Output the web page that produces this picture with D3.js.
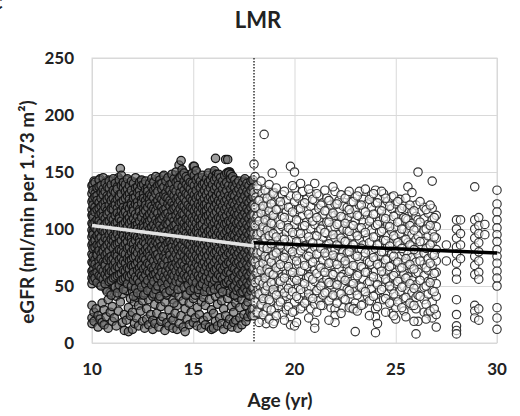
<!DOCTYPE html>
<html>
<head>
<meta charset="utf-8">
<script src="https://cdn.jsdelivr.net/npm/d3@7"></script>
<style>
  body { margin: 0; background: #fff; }
  text { font-family: Lato, "Open Sans", sans-serif; font-weight: bold; fill: #222; }
</style>
</head>
<body>
<svg width="520" height="416"></svg>
<script>
// ages (yr) of each column of points, and the eGFR values in that column
var youngAges = [10.0,10.1,10.2,10.3,10.4,10.5,10.6,10.7,10.8,10.9,
  11.0,11.1,11.2,11.3,11.4,11.5,11.6,11.7,11.8,11.9,
  12.0,12.1,12.2,12.3,12.4,12.5,12.6,12.7,12.8,12.9,
  13.0,13.1,13.2,13.3,13.4,13.5,13.6,13.7,13.8,13.9,
  14.0,14.1,14.2,14.3,14.4,14.5,14.6,14.7,14.8,14.9,
  15.0,15.1,15.2,15.3,15.4,15.5,15.6,15.7,15.8,15.9,
  16.0,16.1,16.2,16.3,16.4,16.5,16.6,16.7,16.8,16.9,
  17.0,17.1,17.2,17.3,17.4,17.5,17.6,17.7,17.8,17.9];

var youngEgfr = [
  [138,131,124,117,112,105,99,93,86,78,71,63,57,52,33,22,17],
  [142,127,119,109,101,96,88,81,74,66,59,27,19],
  [135,128,121,114,103,97,91,84,77,69,61,55,30],
  [140,133,118,111,106,95,89,80,72,65,58,24,14],
  [144,129,122,115,108,100,92,85,76,68,62,51,21],
  [137,130,120,113,104,98,90,83,75,67,56,35,18],
  [141,134,125,110,102,94,87,79,70,64,53,29,16],
  [139,126,119,112,107,97,88,82,73,66,59,47,23],
  [143,132,123,116,105,99,91,84,77,69,60,38,13],
  [136,128,121,109,101,93,86,78,71,63,55,44,27],
  [142,135,124,117,110,103,95,88,80,72,64,57,32,19],
  [138,127,118,111,104,96,89,81,74,65,50,22],
  [140,131,122,114,106,98,90,83,76,67,58,41,15],
  [145,133,125,116,108,100,92,85,77,70,61,48,28],
  [153,137,126,119,112,102,94,87,79,71,62,54,36],
  [141,130,121,113,105,97,89,82,73,66,57,43,18],
  [139,128,120,110,103,95,86,78,70,63,52,25,11],
  [143,134,124,117,109,101,93,84,76,68,59,46,20],
  [136,127,118,111,104,96,88,80,72,64,55,31,10],
  [140,132,122,114,106,99,91,83,75,67,58,39,24],
  [138,129,121,113,105,97,90,82,74,66,56,45,27,12],
  [141,133,123,115,107,98,89,81,73,64,53,36,17],
  [135,126,119,110,102,94,86,79,71,62,50,40,22],
  [139,130,122,114,106,97,88,80,72,63,54,33,15],
  [142,134,125,117,108,100,92,84,75,67,57,42,28],
  [137,128,120,111,103,95,87,78,70,61,51,37,19],
  [140,131,123,115,106,98,90,82,74,65,55,44,13],
  [136,127,118,110,102,93,85,77,68,60,49,30,21],
  [139,132,121,113,105,96,89,81,73,64,53,38,16],
  [141,129,122,114,107,99,91,83,75,66,56,46,25],
  [138,130,123,115,108,100,92,84,76,68,58,41,20,12],
  [142,133,124,116,106,97,88,80,71,62,52,34,17],
  [137,128,119,111,103,95,87,79,70,61,50,43,26],
  [145,135,125,117,109,101,93,85,77,69,59,39,14],
  [140,131,122,113,105,96,88,80,72,63,54,32,19],
  [146,136,126,118,110,102,94,86,78,70,60,47,23],
  [139,130,121,112,104,95,87,79,71,62,51,36,11],
  [143,134,124,116,107,99,90,82,74,65,55,42,18],
  [141,132,123,114,106,98,89,81,73,64,53,29,15],
  [144,135,125,117,108,100,92,84,75,67,57,45,22],
  [142,133,124,115,107,98,90,82,73,65,56,38,20,13],
  [147,138,127,119,110,101,93,85,76,68,58,44,26],
  [140,131,122,113,104,96,88,79,71,62,52,33,12],
  [156,139,128,120,111,103,94,86,78,69,59,41,17],
  [160,143,132,121,112,104,95,87,78,70,60,48,24],
  [150,141,130,122,113,105,96,88,79,71,61,37,14],
  [146,136,126,118,109,100,92,84,75,66,55,30,10],
  [142,133,124,115,106,98,89,81,72,64,53,43,21],
  [139,130,121,112,104,95,87,78,70,61,50,35,16],
  [148,137,127,119,110,102,93,85,77,68,57,46,27],
  [155,144,134,123,114,106,97,89,80,72,63,52,39,18],
  [151,140,129,120,111,103,94,86,78,69,59,42,22],
  [143,134,125,116,107,99,90,82,74,65,54,31,15],
  [140,131,122,114,105,97,88,80,71,63,52,44,25],
  [145,135,126,117,108,100,91,83,75,66,56,36,13],
  [138,129,120,112,103,95,86,78,70,61,50,40,20],
  [142,133,124,115,106,98,89,81,73,64,53,33,16],
  [147,136,127,118,109,101,92,84,76,67,57,45,23],
  [140,131,121,113,104,96,87,79,71,62,51,38,14],
  [144,134,125,116,107,99,90,82,74,65,55,29,12],
  [149,139,128,119,110,102,93,85,77,68,58,47,26,13],
  [162,141,130,121,112,103,95,86,78,70,60,41,19],
  [146,136,126,117,108,100,91,83,75,66,56,34,15],
  [143,133,124,115,106,97,89,80,72,63,53,43,22],
  [140,131,122,113,104,96,87,79,70,62,51,37,17],
  [145,135,125,116,107,99,90,82,73,65,54,30,12],
  [161,138,128,119,110,101,93,84,76,67,57,46,24],
  [161,148,134,122,113,104,95,87,78,70,59,39,16],
  [150,139,129,120,111,102,94,85,77,68,58,44,21],
  [144,134,124,115,106,98,89,81,72,64,53,32,14],
  [141,132,123,114,105,97,88,80,71,63,52,42,27,18],
  [137,128,119,111,102,94,85,77,69,60,49,35,20],
  [140,130,121,112,104,95,87,78,70,61,51,40,13],
  [135,126,118,109,101,92,84,75,67,58,47,31,22],
  [138,129,120,111,103,94,86,77,69,60,50,38,16],
  [142,131,122,113,104,96,87,79,70,62,52,44,25],
  [139,130,120,112,103,95,86,78,69,61,49,33,19],
  [136,127,118,110,101,93,84,76,68,59,48,36,23],
  [140,129,121,112,104,95,87,78,70,61,51,41,27],
  [141,133,123,114,105,97,88,80,71,63,53,30,24]
];

// second set of under-18 columns, half-way between the first ones
var youngAgesB = [10.05,10.15,10.25,10.35,10.45,10.55,10.65,10.75,10.85,10.95,
  11.05,11.15,11.25,11.35,11.45,11.55,11.65,11.75,11.85,11.95,
  12.05,12.15,12.25,12.35,12.45,12.55,12.65,12.75,12.85,12.95,
  13.05,13.15,13.25,13.35,13.45,13.55,13.65,13.75,13.85,13.95,
  14.05,14.15,14.25,14.35,14.45,14.55,14.65,14.75,14.85,14.95,
  15.05,15.15,15.25,15.35,15.45,15.55,15.65,15.75,15.85,15.95,
  16.05,16.15,16.25,16.35,16.45,16.55,16.65,16.75,16.85,16.95,
  17.05,17.15,17.25,17.35,17.45,17.55,17.65,17.75,17.85,17.95];

var youngEgfrB = [
  [139,134,126,121,113,110,104,97,95,88,83,76,70,64,60,55],
  [141,131,128,119,115,106,101,92,90,84,73,69,61,57],
  [136,129,125,117,108,103,99,94,86,79,77,66,62,53],
  [143,137,123,118,112,107,96,91,85,81,72,67,59],
  [138,132,127,120,114,105,100,93,87,78,74,65,58,50],
  [145,135,130,122,116,111,102,98,89,82,80,71,63,56],
  [140,133,124,119,109,104,97,92,84,77,70,68,60,52],
  [137,129,126,116,113,106,99,90,86,79,73,64,57,45],
  [142,136,128,121,115,107,101,95,88,81,75,66,61,54],
  [139,131,125,118,110,103,98,91,85,76,72,63,55,42],
  [144,134,127,120,117,108,102,94,89,83,74,68,62,57],
  [140,132,124,121,112,105,99,93,86,78,71,65,58,49],
  [137,135,126,118,114,106,100,96,87,80,76,67,59,44],
  [143,130,128,122,111,109,101,92,88,82,73,66,60,51],
  [147,138,131,123,116,107,103,97,90,81,75,69,61,55],
  [141,136,125,119,113,104,98,94,85,79,72,64,56,47],
  [139,133,127,117,115,106,100,91,87,78,70,63,57],
  [144,135,129,120,112,108,102,95,89,83,74,66,59,52],
  [138,131,126,118,110,105,97,93,84,77,72,65,58],
  [142,134,123,121,114,107,101,92,88,80,73,68,60,50],
  [140,130,127,119,116,109,99,96,87,82,75,67,62,55,41],
  [145,136,128,122,113,106,103,94,90,81,76,69,58,48],
  [137,132,124,120,111,104,100,93,85,79,71,64,56,44],
  [141,134,129,117,115,107,98,91,88,83,74,66,61,53],
  [143,138,126,123,112,110,102,95,86,78,72,68,59,49],
  [139,131,127,118,114,105,101,97,89,80,75,65,57,42],
  [142,135,125,121,116,108,99,92,87,82,73,67,60,52],
  [136,133,128,119,111,106,103,94,84,79,70,63,55,46],
  [140,130,126,122,113,107,100,96,90,81,76,69,62],
  [144,137,129,120,115,109,102,93,88,83,74,66,58,51],
  [141,134,127,118,112,104,98,95,86,80,72,65,60,54,43],
  [146,136,131,123,116,108,101,94,89,82,77,68,61,47],
  [138,133,125,120,114,106,99,92,87,78,73,64,57,50],
  [143,139,128,121,110,107,103,96,90,84,75,67,59,41],
  [140,135,126,119,115,109,100,93,85,81,71,66,62,53],
  [147,137,130,124,117,111,102,97,91,83,76,69,58,48],
  [142,132,128,118,113,105,98,94,86,79,74,63,56,44],
  [145,136,127,122,114,108,104,95,88,82,72,67,60,52],
  [139,134,125,120,111,106,99,92,89,80,77,65,57,46],
  [148,140,131,123,116,110,101,96,87,84,73,68,61,55],
  [144,135,129,121,118,107,103,93,90,81,75,66,59,50,35],
  [150,141,133,126,119,112,104,98,92,85,78,70,63,54],
  [143,138,128,122,115,108,100,95,88,82,74,67,58,47],
  [146,145,132,125,118,111,106,97,91,84,77,69,62,53],
  [152,147,137,129,121,114,107,101,94,86,80,71,64,57],
  [149,142,134,127,120,113,105,99,90,83,76,68,60,49],
  [146,139,131,124,117,109,102,96,89,81,73,65,57,42],
  [144,137,130,121,115,108,103,94,87,80,75,66,59,51],
  [141,135,127,119,113,106,100,93,86,78,72,64,56,46],
  [149,140,132,125,118,110,104,97,90,83,76,69,61,54],
  [155,147,138,130,123,116,108,101,95,88,81,74,66,58,48],
  [151,143,134,127,119,112,105,98,91,84,77,70,62,53],
  [145,138,129,122,116,109,101,96,88,82,74,67,59,47],
  [142,136,128,120,114,107,103,94,87,80,73,65,57,50],
  [147,139,131,124,118,110,104,97,89,83,76,69,60,52],
  [140,134,127,121,115,108,100,93,86,79,71,64,56,45],
  [144,137,130,122,116,111,102,95,89,81,75,67,58,49],
  [149,141,133,126,119,112,106,98,91,85,77,70,62,54],
  [143,136,128,120,114,107,99,94,87,80,72,66,57,46],
  [146,139,131,125,117,110,103,96,90,82,76,68,61,51],
  [151,143,135,127,120,113,106,99,92,86,79,71,64,55,47],
  [148,145,137,129,122,115,108,100,94,87,80,73,65,57],
  [148,140,132,125,118,110,104,97,90,83,76,68,60,50],
  [145,138,130,123,116,109,102,95,88,81,74,66,58,48],
  [142,135,127,120,113,106,99,93,86,79,72,64,56,45],
  [147,139,131,124,117,110,104,96,89,82,75,67,59,52],
  [149,141,134,126,119,112,105,98,91,84,77,69,62,53],
  [150,149,138,129,122,115,107,100,93,86,79,71,63,55],
  [148,144,135,127,120,113,106,99,92,85,78,70,61,52],
  [146,138,130,123,116,109,102,95,88,81,74,66,57,49],
  [143,136,129,121,114,107,100,94,87,80,72,65,58,50,42],
  [140,133,125,118,112,105,98,91,84,77,70,62,54,46],
  [142,135,127,120,113,106,99,92,86,79,71,63,56,48],
  [138,131,124,117,110,103,96,89,82,75,68,60,52,44],
  [141,134,126,119,112,105,98,91,84,77,69,61,53,45],
  [144,137,129,121,114,107,100,93,86,79,72,64,56,48],
  [140,133,125,118,111,104,97,90,83,76,69,61,53,45],
  [138,131,123,116,109,102,95,88,81,74,67,59,51,42],
  [142,134,126,119,112,105,98,91,84,77,70,62,54,46],
  [143,136,128,121,114,107,100,93,86,79,72,64,56,48]
];

var adultAges = [18.0,18.1,18.2,18.3,18.4,18.5,18.6,18.7,18.8,18.9,
  19.0,19.2,19.4,19.6,19.8,20.0,20.2,20.4,20.6,20.8,
  21.0,21.2,21.4,21.6,21.8,22.0,22.2,22.4,22.6,22.8,
  23.0,23.2,23.4,23.6,23.8,24.0,24.2,24.4,24.6,24.8,
  25.0,25.2,25.4,25.6,25.8,26.0,26.1,26.4,26.6,26.8,
  27.0,27.5,28.0,28.2,28.9,29.1,29.4,30.0];

var adultEgfr = [
  [157,132,121,112,104,96,89,81,73,66,58,49,40,30,24],
  [128,118,109,101,93,85,77,69,61,52,44,35],
  [135,124,115,106,98,90,82,74,65,57,47,38,26],
  [126,117,108,100,92,84,76,67,59,50,42,31],
  [131,122,113,104,95,87,79,71,62,54,45,33,20],
  [183,127,118,109,100,91,83,75,66,58,48,37],
  [124,115,106,97,89,80,72,63,55,46,28,17],
  [133,121,112,103,94,86,78,69,60,51,41],
  [129,119,110,101,92,84,75,67,58,49,36,22],
  [149,126,116,107,98,90,81,73,64,55,44],
  [132,123,113,104,95,87,78,70,61,52,43,30,19],
  [128,118,108,99,90,82,73,64,55,45,33],
  [130,121,111,102,93,84,76,67,58,48,38,25],
  [125,115,106,97,88,79,70,61,51,41,29],
  [155,129,119,110,100,91,82,72,63,53,42,22,16],
  [150,136,124,114,104,95,85,76,66,57,47,36,28,15],
  [127,117,107,97,88,78,69,59,49,39],
  [133,122,112,102,92,83,73,63,53,44,32],
  [126,116,106,96,86,77,67,57,47,37],
  [131,120,110,100,90,80,70,60,50,40,30],
  [140,125,114,104,94,84,74,64,54,43,34,18,13],
  [129,118,108,98,88,78,68,58,48,37],
  [123,113,103,93,83,73,63,53,42,33],
  [127,116,106,96,86,76,66,56,45],
  [121,111,101,91,81,71,61,51,40,31],
  [133,122,112,102,92,82,72,62,52,41,30,24,18],
  [125,115,105,95,85,75,65,55,44],
  [120,110,100,90,80,70,60,50,39,31],
  [130,119,109,99,89,79,69,58,47],
  [124,114,104,94,84,74,64,54,43,32],
  [128,117,107,97,87,77,67,57,46,35,30,10],
  [133,121,111,101,91,81,71,61,50],
  [126,116,106,96,86,76,66,56,45,34],
  [122,112,102,92,82,72,62,52,41],
  [130,119,109,99,89,79,69,59,48,37],
  [134,123,113,103,93,83,73,63,53,42,30,23,9],
  [127,117,107,97,87,77,67,57,46],
  [131,120,110,100,90,80,70,60,49,38],
  [124,114,104,94,84,74,64,54,43],
  [128,118,108,98,88,78,68,58,47,36,26],
  [122,112,102,92,82,72,62,52,41,31,21],
  [126,116,106,96,86,76,66,56,45],
  [120,110,100,90,80,70,60,50,39,28],
  [137,118,108,98,88,78,68,58,47],
  [132,115,105,95,85,75,65,55,44,33],
  [121,111,101,91,81,71,61,51,40,30,8],
  [150,108,94,78,62,42,19],
  [119,109,99,89,79,69,59,49,38,27],
  [114,104,94,84,74,64,54,43,26],
  [142,118,108,98,88,78,68,57,46,36,22],
  [112,102,92,82,72,62,52,41,25,14],
  [86,72],
  [108,100,92,84,78,70,62,56,38,25,15,11,8],
  [108,96,86,74],
  [137,108,100,92,84,76,68,60,33,28,22],
  [110,103,96,88,80,72,62,56,30,20],
  [104,95],
  [134,122,115,108,101,95,89,82,76,70,63,57,50,31,22,12]
];

// second set of 18+ columns
var adultAgesB = [18.05,18.15,18.25,18.35,18.45,18.55,18.65,18.75,18.85,18.95,
  19.1,19.3,19.5,19.7,19.9,20.1,20.3,20.5,20.7,20.9,
  21.1,21.3,21.5,21.7,21.9,22.1,22.3,22.5,22.7,22.9,
  23.1,23.3,23.5,23.7,23.9,24.1,24.3,24.5,24.7,24.9,
  25.1,25.3,25.5,25.7,25.9,26.2,26.5,26.7,26.9];

var adultEgfrB = [
  [146,119,103,88,71,53,36],
  [138,111,95,79,62,27],
  [125,107,86,68,55,43,18],
  [142,114,97,80,64,34],
  [120,102,84,70,52,39,25],
  [134,108,92,76,57,46],
  [127,99,83,65,50,31],
  [139,116,94,74,62,38,21],
  [122,105,87,71,53,29],
  [131,112,96,77,60,47,17],
  [136,117,93,79,66,42,24],
  [124,104,86,69,54,36],
  [133,110,91,75,57,44,20],
  [119,101,84,67,48,32],
  [138,115,97,80,62,45,27],
  [129,108,89,72,55,41,18],
  [140,118,96,81,63,47,30],
  [123,103,85,68,52,35],
  [135,113,93,76,58,43,22],
  [126,107,88,71,56,39],
  [131,110,94,78,61,46,27],
  [121,100,83,66,50,33],
  [134,116,97,79,62,44],
  [125,106,87,70,53,37,20],
  [137,114,95,77,60,42],
  [122,104,86,69,51,35],
  [130,111,92,75,58,43,26],
  [127,105,89,72,55,38],
  [133,117,98,80,63,46,31],
  [124,103,86,68,52,30],
  [129,112,94,76,59,42,28],
  [121,101,83,67,49,33],
  [135,115,97,79,62,45],
  [126,107,88,71,54,37,24],
  [131,113,93,75,58,41],
  [123,104,86,69,51,32,17],
  [133,116,98,80,63,47],
  [127,109,90,73,56,39,27],
  [120,102,85,67,50,35],
  [129,111,94,76,59,43,24],
  [124,106,88,71,54,36],
  [118,100,83,66,49,31],
  [127,109,91,74,57,40,23],
  [121,103,86,69,52,35],
  [116,99,82,65,48,33,19],
  [124,106,89,72,55,41],
  [117,100,83,66,50,34,21],
  [121,103,86,70,53,28],
  [110,93,77,61,45,30]
];

// fitted lines: [age, eGFR] end points
var youngFit = [[10, 103], [18, 85]];
var adultFit = [[18, 88], [30, 79]];

var cutoffAge = 18;
var xTicks = [10, 15, 20, 25, 30];
var yTicks = [0, 50, 100, 150, 200, 250];

var svg = d3.select("svg");
var margin = {left: 92, right: 23, top: 58, bottom: 73};
var width = 520 - margin.left - margin.right,
  height = 416 - margin.top - margin.bottom;

var x = d3.scaleLinear().domain([10, 30]).range([0, width]);
var y = d3.scaleLinear().domain([0, 250]).range([height, 0]);

function flatten(ages, vals) {
  var pts = [];
  ages.forEach(function (a, i) {
    vals[i].forEach(function (v) { pts.push([a, v]); });
  });
  return pts;
}

var youngPts = flatten(youngAges, youngEgfr).concat(flatten(youngAgesB, youngEgfrB));
var adultPts = flatten(adultAges, adultEgfr).concat(flatten(adultAgesB, adultEgfrB));

var g = svg.append("g")
  .attr("transform", "translate(" + margin.left + "," + margin.top + ")");

// grid
g.append("g")
  .call(d3.axisLeft(y).tickValues(yTicks).tickSize(-width).tickFormat(""))
  .call(function (s) { s.select(".domain").remove(); })
  .selectAll("line").attr("stroke", "#d9d9d9");

g.append("g")
  .attr("transform", "translate(0," + height + ")")
  .call(d3.axisBottom(x).tickValues(xTicks).tickSize(-height).tickFormat(""))
  .call(function (s) { s.select(".domain").remove(); })
  .selectAll("line").attr("stroke", "#d9d9d9");

g.append("rect")
  .attr("width", width)
  .attr("height", height)
  .attr("fill", "none")
  .attr("stroke", "#d9d9d9");

// points
g.append("g").selectAll("circle")
  .data(youngPts)
  .enter().append("circle")
  .attr("cx", function (d) { return x(d[0]); })
  .attr("cy", function (d) { return y(d[1]); })
  .attr("r", 4.2)
  .attr("fill", "#6a6a6a")
  .attr("fill-opacity", 0.65)
  .attr("stroke", "#151515")
  .attr("stroke-width", 1.25);

g.append("g").selectAll("circle")
  .data(adultPts)
  .enter().append("circle")
  .attr("cx", function (d) { return x(d[0]); })
  .attr("cy", function (d) { return y(d[1]); })
  .attr("r", 4.2)
  .attr("fill", "#fff")
  .attr("fill-opacity", 0.6)
  .attr("stroke", "#333")
  .attr("stroke-width", 1.15);

// cut-off line
g.append("line")
  .attr("x1", x(cutoffAge)).attr("x2", x(cutoffAge))
  .attr("y1", 0).attr("y2", height)
  .attr("stroke", "#333")
  .attr("stroke-width", 1.5)
  .attr("stroke-dasharray", "1.5,1.5");

var line = d3.line()
  .x(function (d) { return x(d[0]); })
  .y(function (d) { return y(d[1]); });

g.append("path").datum(youngFit)
  .attr("d", line)
  .attr("stroke", "#e4e4e4")
  .attr("stroke-width", 3.5)
  .attr("fill", "none");

g.append("path").datum(adultFit)
  .attr("d", line)
  .attr("stroke", "#000")
  .attr("stroke-width", 3.5)
  .attr("fill", "none");

// tick labels
g.selectAll(".ylab")
  .data(yTicks)
  .enter().append("text")
  .attr("x", -18)
  .attr("y", function (d) { return y(d); })
  .attr("dy", "0.35em")
  .attr("text-anchor", "end")
  .style("font-size", "17px")
  .text(function (d) { return d; });

g.selectAll(".xlab")
  .data(xTicks)
  .enter().append("text")
  .attr("x", function (d) { return x(d); })
  .attr("y", height + 32)
  .attr("text-anchor", "middle")
  .style("font-size", "17px")
  .text(function (d) { return d; });

// titles
svg.append("text")
  .attr("x", 258)
  .attr("y", 28)
  .attr("text-anchor", "middle")
  .style("font-size", "22px")
  .text("LMR");

svg.append("text")
  .attr("x", 280)
  .attr("y", 407)
  .attr("text-anchor", "middle")
  .style("font-size", "19px")
  .text("Age (yr)");

svg.append("text")
  .attr("transform", "translate(34,212) rotate(-90)")
  .attr("text-anchor", "middle")
  .style("font-size", "19px")
  .text("eGFR (ml/min per  1.73 m²)");

// panel letter, mostly cut off at the page edge
svg.append("text")
  .attr("x", -7)
  .attr("y", 9)
  .style("font-size", "20px")
  .text("c");
</script>
</body>
</html>
